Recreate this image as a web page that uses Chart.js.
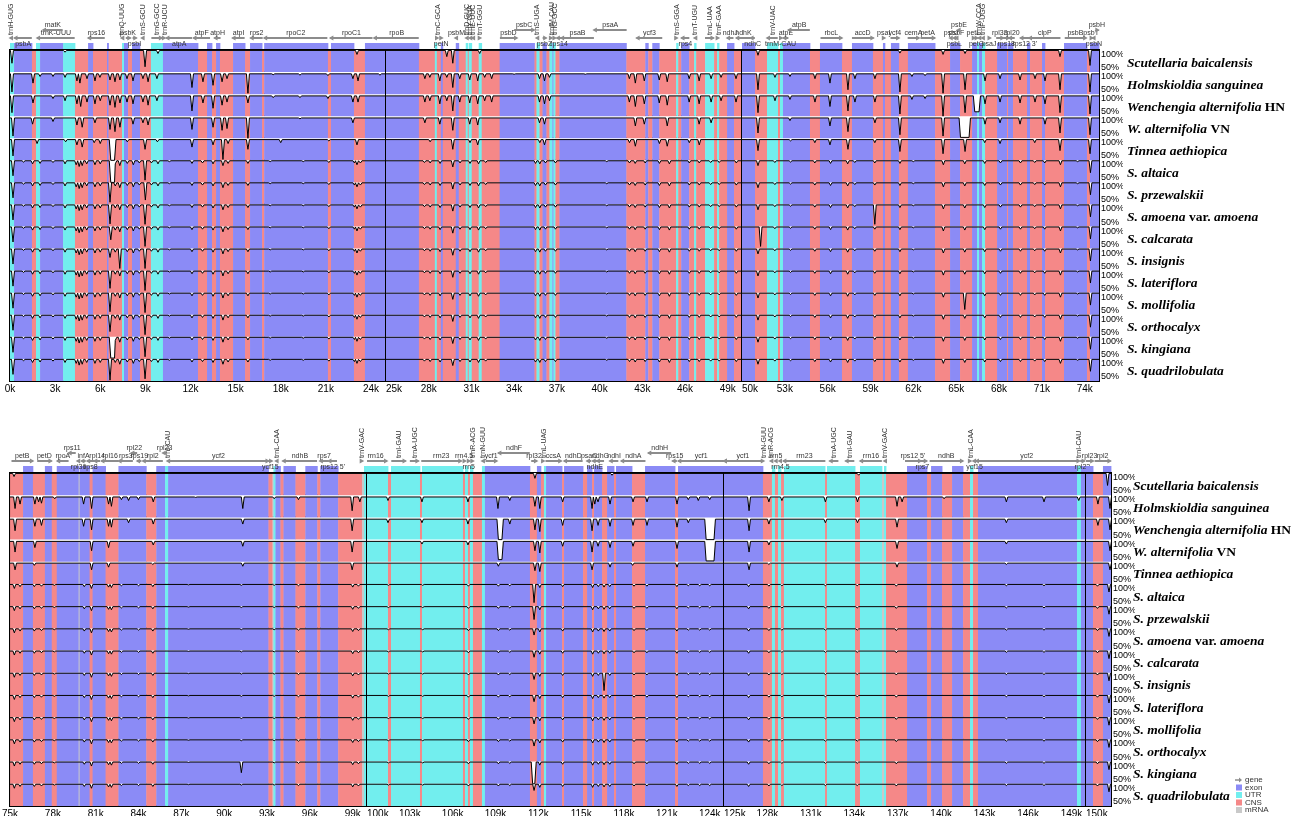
<!DOCTYPE html>
<html>
<head>
<meta charset="utf-8">
<script src="https://cdn.jsdelivr.net/npm/chart.js@4.4.1/dist/chart.umd.min.js"></script>
<style>
  html, body { margin: 0; padding: 0; background: #fff; width: 1294px; height: 816px; overflow: hidden; }
  #wrap { position: relative; width: 1294px; height: 816px; overflow: hidden; }
  #wrap canvas { position: absolute; }
</style>
</head>
<body>
<div id="wrap"></div>
<script>
// ---------- sequence ranges (kb) drawn as blocks ----------
const topSegments = [[0, 25], [25, 50], [50, 75]];
const bottomSegments = [[75, 100], [100, 125], [125, 150], [150, 151.74]];

// ---------- x tick labels (kb) per block ----------
const topTicks = [
  [0, 3, 6, 9, 12, 15, 18, 21, 24],
  [25, 28, 31, 34, 37, 40, 43, 46, 49],
  [50, 53, 56, 59, 62, 65, 68, 71, 74]
];
const bottomTicks = [
  [75, 78, 81, 84, 87, 90, 93, 96, 99],
  [100, 103, 106, 109, 112, 115, 118, 121, 124],
  [125, 128, 131, 134, 137, 140, 143, 146, 149],
  [150]
];

// ---------- annotation classes: [start kb, end kb, type] e=exon u=UTR c=CNS m=mRNA ----------
const topRegions = [
  [0,0.27,'u'],[0.27,1.46,'e'],[1.46,1.73,'c'],[1.73,2.0,'u'],[2.0,3.53,'e'],[3.53,4.32,'u'],[4.32,5.19,'c'],
  [5.19,5.52,'e'],[5.52,6.45,'c'],[6.45,6.55,'e'],[6.55,7.45,'c'],[7.45,7.58,'u'],[7.58,7.85,'e'],[7.85,8.11,'c'],
  [8.11,8.64,'e'],[8.64,9.37,'c'],[9.37,10.17,'u'],[10.17,12.5,'e'],[12.5,13.1,'c'],[13.1,13.43,'e'],[13.43,13.7,'c'],
  [13.7,13.96,'e'],[13.96,14.83,'c'],[14.83,15.63,'e'],[15.63,15.96,'c'],[15.96,16.76,'e'],[16.76,16.9,'c'],
  [16.9,21.14,'e'],[21.14,21.34,'c'],[21.34,22.87,'e'],[22.87,23.6,'c'],[23.6,27.31,'e'],[27.31,28.43,'c'],
  [28.43,28.57,'u'],[28.57,28.85,'c'],[28.85,28.99,'e'],[28.99,29.9,'c'],[29.9,30.11,'e'],[30.11,30.6,'c'],
  [30.6,30.74,'u'],[30.74,30.81,'c'],[30.81,31.02,'u'],[31.02,31.51,'c'],[31.51,31.72,'u'],[31.72,32.98,'c'],
  [32.98,35.43,'e'],[35.43,35.57,'c'],[35.57,35.78,'u'],[35.78,35.99,'c'],[35.99,36.27,'e'],[36.27,36.48,'c'],
  [36.48,36.69,'u'],[36.69,36.76,'e'],[36.76,36.9,'u'],[36.9,37.18,'c'],[37.18,41.88,'e'],[41.88,43.21,'c'],
  [43.21,43.42,'e'],[43.42,43.7,'c'],[43.7,44.19,'e'],[44.19,45.38,'c'],[45.38,45.52,'u'],[45.52,45.73,'c'],
  [45.73,46.29,'e'],[46.29,46.64,'c'],[46.64,46.78,'u'],[46.78,47.41,'c'],[47.41,48.04,'u'],[48.04,48.25,'c'],
  [48.25,48.39,'u'],[48.39,48.95,'c'],[48.95,49.44,'e'],[49.44,50,'c'],
  [50,50.91,'e'],[50.91,51.75,'c'],[51.75,52.52,'u'],[52.52,52.66,'c'],[52.66,52.87,'u'],[52.87,54.76,'e'],
  [54.76,55.46,'c'],[55.46,57.0,'e'],[57.0,57.7,'c'],[57.7,59.17,'e'],[59.17,59.87,'c'],[59.87,60.01,'e'],
  [60.01,60.43,'c'],[60.43,60.99,'e'],[60.99,61.62,'c'],[61.62,63.52,'e'],[63.52,64.57,'c'],[64.57,65.27,'e'],
  [65.27,66.11,'c'],[66.11,66.46,'e'],[66.46,66.6,'u'],[66.6,66.81,'e'],[66.81,67.02,'u'],[67.02,67.86,'c'],
  [67.86,68.56,'e'],[68.56,68.63,'c'],[68.63,68.98,'e'],[68.98,69.96,'c'],[69.96,70.17,'e'],[70.17,71.01,'c'],
  [71.01,71.22,'e'],[71.22,72.55,'c'],[72.55,74.16,'e'],[74.16,74.37,'c'],[74.37,75,'e']
];
const bottomRegions = [
  [75,75.91,'c'],[75.91,76.6,'e'],[76.6,77.44,'c'],[77.44,77.92,'e'],[77.92,78.27,'c'],[78.27,79.8,'e'],
  [79.8,79.87,'m'],[79.87,80.57,'e'],[80.57,80.78,'c'],[80.78,81.69,'e'],[81.69,82.59,'c'],[82.59,84.54,'e'],
  [84.54,85.24,'c'],[85.24,85.86,'e'],[85.86,86.07,'u'],[86.07,93.1,'e'],[93.1,93.38,'c'],[93.38,93.45,'m'],
  [93.45,93.59,'u'],[93.59,93.94,'e'],[93.94,94.15,'c'],[94.15,94.99,'e'],[94.99,95.68,'c'],[95.68,96.52,'e'],
  [96.52,96.73,'c'],[96.73,97.98,'e'],[97.98,99.65,'c'],[99.65,99.79,'m'],[99.79,101.47,'u'],[101.47,101.68,'c'],
  [101.68,103.71,'u'],[103.71,103.85,'c'],[103.85,106.72,'u'],[106.72,106.86,'c'],[106.86,107.07,'u'],
  [107.07,107.21,'c'],[107.21,107.42,'u'],[107.42,108.05,'c'],[108.05,108.26,'u'],[108.26,111.41,'e'],
  [111.41,111.9,'c'],[111.9,112.18,'e'],[112.18,112.39,'c'],[112.39,112.54,'u'],[112.54,113.66,'e'],
  [113.66,113.8,'c'],[113.8,115.13,'e'],[115.13,115.41,'c'],[115.41,115.76,'e'],[115.76,115.9,'c'],
  [115.9,116.46,'e'],[116.46,116.81,'c'],[116.81,117.3,'e'],[117.3,117.44,'c'],[117.44,118.56,'e'],
  [118.56,119.47,'c'],[119.47,121.57,'e'],[121.57,121.78,'c'],[121.78,127.69,'e'],[127.69,128.31,'c'],
  [128.31,128.52,'u'],[128.52,128.73,'c'],[128.73,128.94,'u'],[128.94,129.14,'c'],[129.14,131.98,'u'],
  [131.98,132.11,'c'],[132.11,134.05,'u'],[134.05,134.39,'c'],[134.39,135.91,'u'],[135.91,136.05,'m'],
  [136.05,136.19,'u'],[136.19,137.64,'c'],[137.64,139.02,'e'],[139.02,139.3,'c'],[139.3,140.06,'e'],
  [140.06,140.75,'c'],[140.75,141.51,'e'],[141.51,141.99,'c'],[141.99,142.2,'u'],[142.2,142.54,'c'],
  [142.54,149.38,'e'],[149.38,149.65,'u'],[149.65,150.49,'e'],[150.49,151.18,'c'],[151.18,151.74,'e']
];

// ---------- genes: [name, start kb, end kb, strand, track] track 0/1 above, -1 label below, 'v' upright tRNA label ----------
const topGenes = [
  ['trnH-GUG',0.0,0.1,-1,'v'],['psbA',0.3,1.45,-1,-1],['trnK-UUU',1.8,4.3,-1,0],['matK',2.2,3.5,-1,1],
  ['rps16',5.2,6.3,-1,0],['trnQ-UUG',7.4,7.5,-1,'v'],['psbK',7.7,8.0,1,0],['psbI',8.15,8.4,1,-1],
  ['trnS-GCU',8.75,8.85,-1,'v'],['trnG-GCC',9.4,10.1,1,'v'],['trnR-UCU',10.2,10.3,1,'v'],['atpA',10.4,12.1,-1,-1],
  ['atpF',12.2,13.3,-1,0],['atpH',13.6,14.0,-1,0],['atpI',14.8,15.6,-1,0],['rps2',16.0,16.8,-1,0],
  ['rpoC2',16.9,21.1,-1,0],['rpoC1',21.3,24.1,-1,0],['rpoB',24.2,27.3,-1,0],
  ['trnC-GCA',28.55,28.65,1,'v'],['petN',28.8,28.95,1,-1],['psbM',29.85,30.05,-1,0],['trnD-GUC',30.6,30.7,-1,'v'],
  ['trnY-GUA',30.85,30.95,-1,'v'],['trnE-UUC',31.05,31.15,-1,'v'],['trnT-GGU',31.55,31.65,1,'v'],
  ['psbD',33.0,34.2,1,0],['psbC',34.0,35.4,1,1],['trnS-UGA',35.55,35.65,-1,'v'],['psbZ',36.0,36.25,1,-1],
  ['trnfM-CAU',36.55,36.65,1,'v'],['trnG-GCC',36.8,36.9,1,'v'],['rps14',37.0,37.3,-1,-1],['psaB',37.3,39.6,-1,0],
  ['psaA',39.6,41.9,-1,1],['ycf3',42.6,44.4,-1,0],['trnS-GGA',45.35,45.45,1,'v'],['rps4',45.75,46.3,-1,-1],
  ['trnT-UGU',46.65,46.75,-1,'v'],['trnL-UAA',47.4,48.0,1,'v'],['trnF-GAA',48.28,48.36,1,'v'],
  ['ndhJ',48.95,49.4,-1,0],['ndhK',49.6,50.6,-1,0],['ndhC',50.6,50.9,-1,-1],
  ['trnV-UAC',51.75,52.5,-1,'v'],['trnM-CAU',52.6,52.8,1,-1],['atpE',52.9,53.25,-1,0],['atpB',53.25,54.75,-1,1],
  ['rbcL',55.5,57.0,1,0],['accD',57.7,59.2,1,0],['psaI',59.85,60.0,1,0],['ycf4',60.4,61.0,1,0],
  ['cemA',61.6,62.4,1,0],['petA',62.5,63.5,1,0],['psbJ',64.55,64.75,-1,0],['psbL',64.8,64.95,-1,-1],
  ['psbF',64.95,65.1,-1,0],['psbE',65.1,65.3,-1,1],['petL',66.1,66.3,1,0],['petG',66.35,66.5,1,-1],
  ['trnW-CCA',66.55,66.65,-1,'v'],['trnP-UGG',66.8,66.9,-1,'v'],['psaJ',67.2,67.4,1,-1],['rpl33',67.8,68.3,1,0],
  ['rps18',68.3,68.7,1,-1],['rpl20',68.7,69.1,-1,0],["rps12 3'",69.5,70.1,-1,-1],['clpP',70.1,72.3,-1,0],
  ['psbB',72.6,74.1,1,0],['psbT',74.35,74.55,1,0],['psbN',74.55,74.75,-1,-1],['psbH',74.75,74.95,1,1]
];
const bottomGenes = [
  ['petB',75.1,76.6,1,0],['petD',76.9,77.9,1,0],['rpoA',78.3,79.1,-1,0],['rps11',79.1,79.6,-1,1],
  ['rpl36',79.7,79.9,-1,-1],['infA',80.0,80.3,-1,0],['rps8',80.4,80.9,-1,-1],['rpl14',80.9,81.3,-1,0],
  ['rpl16',81.4,82.6,-1,0],['rps3',82.6,83.6,-1,0],['rpl22',83.5,83.9,-1,1],['rps19',83.9,84.2,-1,0],
  ['rpl2',84.3,85.7,-1,0],['rpl23',85.7,85.95,-1,1],['trnI-CAU',86.0,86.1,-1,'v'],['ycf2',86.1,93.1,1,0],
  ['ycf15',93.1,93.35,1,-1],['trnL-CAA',93.6,93.7,-1,'v'],['ndhB',94.1,96.5,-1,0],['rps7',96.7,97.3,-1,0],
  ["rps12 5'",97.3,97.9,-1,-1],['trnV-GAC',99.6,99.7,1,'v'],['rrn16',99.8,101.4,1,0],
  ['trnI-GAU',101.7,102.7,1,'v'],['trnA-UGC',103.0,103.6,1,'v'],['rrn23',103.8,106.6,1,0],
  ['rrn4.5',106.7,106.9,1,0],['rrn5',107.05,107.2,1,-1],['trnR-ACG',107.35,107.45,1,'v'],
  ['trnN-GUU',108.05,108.15,-1,'v'],['ycf1',108.3,109.1,1,0],['ndhF',109.2,111.4,-1,1],['rpl32',111.5,111.9,1,0],
  ['trnL-UAG',112.3,112.4,1,'v'],['ccsA',112.5,113.6,1,0],['ndhD',113.8,115.1,-1,0],['psaC',115.4,115.7,-1,0],
  ['ndhE',115.8,116.1,-1,-1],['ndhG',116.1,116.6,-1,0],['ndhI',117.0,117.6,-1,0],['ndhA',117.8,119.5,-1,0],
  ['ndhH',119.7,121.3,-1,1],['rps15',121.4,121.7,-1,0],['ycf1',121.8,125.0,-1,0],['ycf1',125.0,127.6,-1,0],
  ['trnN-GUU',127.65,127.75,1,'v'],['trnR-ACG',128.2,128.3,-1,'v'],['rrn5',128.5,128.7,-1,0],
  ['rrn4.5',128.8,129.0,-1,-1],['rrn23',129.1,132.0,-1,0],['trnA-UGC',132.3,132.9,-1,'v'],
  ['trnI-GAU',133.4,134.0,-1,'v'],['rrn16',134.4,135.9,-1,0],['trnV-GAC',136.05,136.15,-1,'v'],
  ["rps12 5'",137.5,138.6,1,0],['rps7',138.4,139.0,1,-1],['ndhB',139.2,141.5,1,0],['trnL-CAA',141.95,142.05,1,'v'],
  ['ycf15',142.2,142.4,-1,-1],['ycf2',142.4,149.4,-1,0],['trnI-CAU',149.45,149.55,1,'v'],['rpl23',149.6,149.9,1,-1],
  ['rpl23',150.0,150.5,1,0],['rpl2',150.6,151.7,1,0]
];

// ---------- identity dips per genome: [kb, % identity] or [from kb, %, to kb] for flat troughs ----------
const dipBaicalensis = [[0.13,70],[3.66,95],[8.98,62],[9.84,92],[23.07,90],[29.27,85],[29.69,70],[31.58,92],
  [51.12,88],[61.06,93],[64.08,90],[65.62,92],[72.27,85],[74.37,65],[75.28,92],[111.76,88],[117.16,95],[134.3,95],[151.5,72]];
const dipHolmskioldia = [[0.13,55],[1.53,75],[2.0,90],[2.86,90],[3.66,88],[4.45,80],[4.65,75],[5.12,85],[5.65,80],
  [5.98,88],[6.65,82],[6.98,78],[7.31,82],[7.78,85],[8.18,80],[8.84,85],[9.18,78],[9.77,85],[12.1,65],[12.83,78],
  [13.5,70],[14.1,78],[14.43,85],[15.82,52],[17.5,94],[19.28,93],[21.14,92],[22.8,85],[23.14,80],[24.6,93],
  [27.73,85],[28.08,88],[28.78,80],[29.27,88],[29.69,65],[30.18,85],[30.88,82],[31.44,80],[31.93,88],[32.42,85],
  [34.0,95],[35.78,85],[36.13,80],[36.48,88],[39.0,95],[42.09,85],[42.51,75],[43.14,80],[44.19,82],[44.75,78],
  [46.29,85],[46.99,80],[47.83,85],[48.53,88],[49.58,85],[51.12,60],[52.31,88],[53.36,90],[55.11,85],[56.16,75],
  [57.42,60],[57.91,85],[59.31,85],[61.06,55],[61.9,90],[62.82,92],[64.08,52],[65.62,60],[67.02,80],[68.07,85],
  [69.47,82],[70.52,85],[71.22,80],[72.27,60],[74.37,55],
  [75.35,70],[75.7,80],[76.74,80],[77.0,85],[77.2,82],[78.13,92],[80.15,80],[80.71,70],[81.9,80],[82.1,75],
  [82.8,90],[83.3,88],[83.99,90],[85.03,85],[88.0,95],[91.3,70],[93.5,92],[95.2,90],[98.96,65],[99.5,85],
  [101.47,88],[103.85,85],[107.07,85],[109.17,70],[110.0,88],[111.76,75],[112.1,70],[113.7,85],[115.76,70],
  [115.95,80],[116.18,85],[117.02,80],[118.63,85],[119.61,85],[121.71,80],[122.5,90],[123.2,88],[124.0,90],
  [126.73,65],[128.1,85],[129.0,88],[132.0,85],[134.22,85],[136.95,75],[137.3,85],[140.2,92],[144.5,85],
  [147.1,85],[149.5,88],[150.83,80],[151.67,70]];
const dipWenchengiaHN = [[0.13,58],[1.53,80],[2.86,90],[3.66,85],[4.45,78],[4.7,72],[5.12,82],[5.65,78],[6.0,85],
  [6.65,75],[6.98,70],[7.31,80],[7.78,82],[8.18,78],[8.84,82],[9.18,75],[9.77,85],[12.1,62],[12.83,80],[13.5,68],
  [14.1,75],[14.43,82],[15.82,80],[17.5,92],[19.28,92],[21.14,90],[22.8,82],[23.14,82],[27.73,82],[28.08,85],
  [28.78,78],[29.27,85],[29.69,62],[30.18,82],[30.88,80],[31.44,78],[31.93,85],[32.42,82],[35.78,82],[36.13,78],
  [36.48,85],[42.09,82],[42.51,72],[43.14,78],[44.19,80],[44.75,75],[46.29,82],[46.99,78],[47.83,82],[48.53,85],
  [49.58,82],[51.12,58],[52.31,85],[53.36,88],[55.11,82],[56.16,72],[57.42,62],[57.91,82],[59.31,82],[61.06,55],
  [61.9,88],[62.82,90],[64.08,50],[65.62,58],[66.3,60,66.6],[67.02,78],[68.07,82],[69.47,80],[70.52,82],
  [71.22,78],[72.27,58],[74.37,55],
  [75.35,70],[76.74,80],[77.2,82],[80.15,80],[80.71,72],[81.9,80],[82.1,78],[83.3,88],[85.03,85],[91.3,85],
  [98.96,70],[101.47,88],[103.85,88],[107.07,85],[109.2,50,109.45],[110.0,85],[111.76,72],[112.1,68],[113.7,82],
  [115.76,70],[116.18,82],[117.02,80],[118.63,82],[119.61,82],[121.71,78],[122.5,88],[123.75,50,124.3],
  [126.73,70],[128.1,85],[132.0,88],[134.22,88],[136.95,78],[144.5,88],[150.83,82],[151.67,72]];
const dipWenchengiaVN = [[0.2,55],[1.5,82],[2.86,88],[4.45,80],[4.8,75],[5.65,85],[6.65,70],[6.98,65],[7.31,75],
  [8.18,82],[8.84,85],[9.18,80],[12.1,70],[13.5,75],[14.1,68],[14.43,72],[15.82,50],[19.28,94],[22.8,85],
  [27.73,85],[28.78,82],[29.69,68],[30.88,82],[31.44,80],[35.78,85],[36.13,82],[42.51,78],[43.14,82],[44.75,78],
  [46.99,82],[47.83,85],[51.12,62],[53.36,90],[56.16,78],[57.42,65],[59.31,85],[61.06,58],[64.08,55],
  [65.3,52,65.9],[67.02,82],[68.07,85],[69.47,82],[71.22,82],[72.27,62],[74.37,58],
  [75.35,72],[76.74,82],[80.71,75],[81.9,82],[85.03,88],[91.3,85],[98.96,72],[103.85,90],[107.07,88],
  [109.2,55,109.45],[111.76,75],[112.1,70],[113.7,85],[115.76,72],[116.18,85],[117.02,82],[118.63,85],
  [121.71,80],[123.75,52,124.3],[126.73,72],[128.1,88],[136.95,80],[144.5,90],[151.67,75]];
const dipTinnea = [[0.2,60],[1.8,88],[3.7,92],[4.45,85],[4.8,80],[5.6,90],[6.0,88],[6.7,50,6.95],[7.8,92],[8.98,75],
  [9.8,92],[12.1,80],[13.5,85],[14.16,52],[14.5,88],[15.82,75],[18.0,90],[21.2,94],[23.07,85],[28.1,92],[29.69,75],
  [30.9,90],[31.44,85],[35.8,90],[36.13,85],[42.1,90],[42.51,82],[44.2,88],[44.75,82],[46.3,90],[47.0,85],
  [51.12,72],[53.4,94],[55.1,90],[56.16,85],[57.42,75],[59.3,90],[61.06,70],[64.08,65],[65.62,70],[67.0,90],
  [68.07,88],[70.5,90],[72.27,72],[74.37,65],
  [75.35,82],[76.7,92],[80.71,82],[81.9,88],[85.0,94],[91.3,90],[98.96,82],[109.2,90],[111.76,80],[112.1,78],
  [115.76,82],[117.02,88],[118.6,92],[121.71,88],[126.73,82],[128.1,94],[136.95,88],[144.5,94],[151.67,82]];
// dips shared by the Scutellaria genomes, then each genome's own departures
const scutSharedDips = [[0.2,65],[0.9,96],[1.5,92],[2.0,93],[2.86,95],[3.66,92],[4.4,90],[4.6,86],[4.8,88],[5.1,92],
  [5.65,90],[6.0,92],[6.65,58],[7.0,92],[7.3,88],[7.8,93],[8.2,90],[8.6,94],[8.98,55],[9.4,94],[9.84,92],[10.6,97],
  [12.1,93],[12.8,94],[13.5,92],[14.16,88],[14.5,93],[15.82,93],[17.3,97],[19.5,97],[21.2,95],[22.9,94],[23.07,90],
  [23.3,94],[27.7,95],[28.1,94],[28.8,93],[29.69,85],[30.2,94],[30.9,93],[31.5,92],[32.0,95],[35.5,93],[35.8,92],
  [36.2,94],[36.9,94],[40.5,97],[42.1,94],[42.5,93],[43.2,94],[44.2,93],[44.9,92],[46.3,94],[47.0,94],[47.8,95],
  [48.4,95],[49.6,94],[51.12,88],[52.3,95],[53.4,96],[55.1,94],[56.2,93],[57.4,92],[57.9,95],[59.3,94],[61.06,93],
  [62.0,97],[64.1,90],[65.6,92],[67.0,93],[68.1,94],[69.5,94],[70.5,95],[71.2,94],[72.3,90],[73.5,97],[74.4,72],
  [75.3,90],[75.7,94],[76.7,94],[77.2,95],[78.1,97],[80.2,94],[80.7,90],[81.9,93],[82.1,92],[82.8,96],[84.0,96],
  [85.0,94],[87.5,98],[91.2,97],[93.5,97],[95.2,96],[99.0,93],[99.4,95],[101.5,97],[103.9,97],[107.1,95],[109.2,95],
  [110.0,96],[111.7,85],[112.1,92],[113.7,94],[115.8,92],[116.2,94],[116.6,93],[117.0,94],[118.7,95],[119.6,95],
  [121.7,94],[122.5,96],[123.3,96],[124.0,96],[126.7,94],[128.1,95],[129.0,96],[132.0,96],[134.2,96],[136.9,95],
  [144.5,96],[147.1,96],[150.8,95],[151.6,82]];
const dipAltaica = [[6.7,50,6.95],[8.98,55],[111.7,58]];
const dipPrzewalskii = [[6.65,55],[9.0,60],[111.7,70]];
const dipAmoena = [[59.3,55],[6.65,56]];
const dipCalcarata = [[51.3,55],[6.7,70]];
const dipInsignis = [[7.3,55],[116.6,60],[6.65,80]];
const dipLateriflora = [[6.65,60]];
const dipMollifolia = [[65.6,62],[6.65,57]];
const dipOrthocalyx = [[6.65,62]];
const dipKingiana = [[6.7,52,6.95],[91.2,75],[111.6,50,111.75]];
const dipQuadrilobulata = [[6.65,52]];

// typical identity level between dips, per row
const rowBaseline = [99, 96, 96, 96, 97, 99, 99, 99, 99, 99, 99, 99, 99, 99, 99];

// row labels, split into [text, italic?] runs
const speciesLabels = [
  [['Scutellaria baicalensis', 1]],
  [['Holmskioldia sanguinea', 1]],
  [['Wenchengia alternifolia ', 1], ['HN', 0]],
  [['W. alternifolia ', 1], ['VN', 0]],
  [['Tinnea aethiopica', 1]],
  [['S. altaica', 1]],
  [['S. przewalskii', 1]],
  [['S. amoena ', 1], ['var. ', 0], ['amoena', 1]],
  [['S. calcarata', 1]],
  [['S. insignis', 1]],
  [['S. lateriflora', 1]],
  [['S. mollifolia', 1]],
  [['S. orthocalyx', 1]],
  [['S. kingiana', 1]],
  [['S. quadrilobulata', 1]]
];
const legendItems = [['gene', 'g'], ['exon', 'e'], ['UTR', 'u'], ['CNS', 'c'], ['mRNA', 'm']];

// ---------- styling ----------
const BAND = { e: '#8b8bf6', u: '#72eeee', c: '#f58888', m: '#c9c9c9' };
const ARROW = '#8c8c8c';
const SANS = '"Liberation Sans", Arial, sans-serif';
const SERIF = '"Liberation Serif", "Times New Roman", serif';
Chart.defaults.font.family = SANS;

// ---------- page layout of the two panels ----------
const TOP_PANEL = { canvasTop: 0, canvasH: 400, areaTop: 50, areaBottom: 381, edges: [10, 386, 742, 1099], labelGap: 28 };
const BOTTOM_PANEL = { canvasTop: 400, canvasH: 430, areaTop: 473, areaBottom: 806, edges: [8, 367, 724, 1086, 1111], labelGap: 22 };
const ROW_COUNT = speciesLabels.length;
const rowEdges = Array.from({ length: ROW_COUNT + 1 }, (_, i) => i);

function mergeDips(shared, own) {
  const kept = shared.filter(d => !own.some(o => Math.abs(o[0] - d[0]) < 0.2));
  return kept.concat(own);
}
const rowDips = [
  dipBaicalensis, dipHolmskioldia, dipWenchengiaHN, dipWenchengiaVN, dipTinnea,
  mergeDips(scutSharedDips, dipAltaica), mergeDips(scutSharedDips, dipPrzewalskii),
  mergeDips(scutSharedDips, dipAmoena), mergeDips(scutSharedDips, dipCalcarata),
  mergeDips(scutSharedDips, dipInsignis), mergeDips(scutSharedDips, dipLateriflora),
  mergeDips(scutSharedDips, dipMollifolia), mergeDips(scutSharedDips, dipOrthocalyx),
  mergeDips(scutSharedDips, dipKingiana), mergeDips(scutSharedDips, dipQuadrilobulata)
];

// Turn a dip list into line vertices: each dip is a narrow notch down from the row's baseline.
function buildCurve(dips, base, lo, hi) {
  const w = 0.1;
  const list = dips.filter(d => (d.length > 2 ? d[2] : d[0]) > lo - 0.3 && d[0] < hi + 0.3)
                   .slice().sort((a, b) => a[0] - b[0]);
  const pts = [{ x: lo - 0.5, y: base }];
  let lastX = lo - 0.5;
  list.forEach((d, i) => {
    const x1 = d[0], x2 = d.length > 2 ? d[2] : d[0];
    if (x1 - w > lastX) pts.push({ x: x1 - w, y: base });
    pts.push({ x: x1, y: d[1] });
    if (x2 > x1) pts.push({ x: x2, y: d[1] });
    lastX = x2;
    const nx = list[i + 1] ? list[i + 1][0] - w : Infinity;
    if (x2 + w < nx) { pts.push({ x: x2 + w, y: base }); lastX = x2 + w; }
  });
  pts.push({ x: Math.max(hi + 0.5, lastX + 0.01), y: base });
  return pts;
}
// identity (50-100 %) into row units of the stacked y scale (row i spans i..i+1, 100% at top)
function toRowY(row, v) {
  const c = Math.max(50, Math.min(100, v));
  return row + (100 - c) / 50;
}

const wrap = document.getElementById('wrap');

function segmentChart(panel, idx, range, tickVals, regions, genes) {
  const last = idx === panel.edges.length - 2;
  const eL = panel.edges[idx], eR = panel.edges[idx + 1];
  const padL = idx === 0 ? eL : 40;
  const left = eL - padL;
  const right = last ? 1294 : eR + 40;
  const W = right - left, H = panel.canvasH;
  const pctW = last ? 24 : 0;
  const canvas = document.createElement('canvas');
  canvas.width = W; canvas.height = H;
  canvas.style.left = left + 'px'; canvas.style.top = panel.canvasTop + 'px';
  canvas.style.width = W + 'px'; canvas.style.height = H + 'px';
  wrap.appendChild(canvas);

  const [lo, hi] = range;
  const startTick = idx > 0 ? [tickVals[0]] : [];
  const innerTicks = idx > 0 ? tickVals.slice(1) : tickVals;

  const datasets = rowDips.map((dips, r) => ({
    data: buildCurve(dips, rowBaseline[r], lo, hi).map(p => ({ x: p.x, y: toRowY(r, p.y) })),
    borderColor: '#000', borderWidth: 1, backgroundColor: '#fff',
    fill: { value: r }, pointRadius: 0, tension: 0, xAxisID: 'x', yAxisID: 'y'
  }));

  const bandsPlugin = {
    id: 'bands' + idx,
    beforeDatasetsDraw(chart) {
      const { ctx, chartArea: ca, scales: { x } } = chart;
      ctx.save();
      ctx.beginPath(); ctx.rect(ca.left, ca.top, ca.width, ca.height); ctx.clip();
      for (const [a, b, t] of regions) {
        if (b <= lo || a >= hi) continue;
        const x1 = x.getPixelForValue(Math.max(a, lo)), x2 = x.getPixelForValue(Math.min(b, hi));
        ctx.fillStyle = BAND[t];
        ctx.fillRect(x1, ca.top, x2 - x1 + 0.4, ca.height);
      }
      ctx.restore();
    }
  };

  const geneTrack = {
    id: 'genes' + idx,
    afterDraw(chart) {
      const { ctx, chartArea: ca, scales: { x } } = chart;
      const T = ca.top;
      ctx.save();
      // exon / UTR strip just above the plot
      for (const [a, b, t] of regions) {
        if ((t !== 'e' && t !== 'u') || b <= lo || a >= hi) continue;
        const x1 = x.getPixelForValue(Math.max(a, lo)), x2 = x.getPixelForValue(Math.min(b, hi));
        ctx.fillStyle = BAND[t];
        ctx.fillRect(x1, T - 7, x2 - x1 + 0.4, 6);
      }
      ctx.font = '7px ' + SANS;
      for (const [name, a, b, dir, lvl] of genes) {
        if (b < lo || a > hi) continue;
        const xa = x.getPixelForValue(a), xb = x.getPixelForValue(b);
        const y = T + (lvl === 1 ? -20 : -12);
        ctx.strokeStyle = ARROW; ctx.fillStyle = ARROW; ctx.lineWidth = 2;
        const cl = Math.max(xa, ca.left), cr = Math.min(xb, ca.right);
        if (cr - cl > 3) {
          ctx.beginPath(); ctx.moveTo(cl, y); ctx.lineTo(cr, y); ctx.stroke();
        }
        const tip = dir > 0 ? xb : xa;
        if (tip >= ca.left - 1 && tip <= ca.right + 1) {
          ctx.beginPath();
          ctx.moveTo(tip + dir * 1.5, y);
          ctx.lineTo(tip - dir * 3, y - 2.5);
          ctx.lineTo(tip - dir * 3, y + 2.5);
          ctx.closePath(); ctx.fill();
        }
        const mid = (a + b) / 2;
        if (mid >= lo && mid < hi) {
          const mx = x.getPixelForValue(mid);
          ctx.fillStyle = '#333';
          if (lvl === 'v') {
            ctx.save(); ctx.translate(mx + 0.5, T - 15); ctx.rotate(-Math.PI / 2);
            ctx.textAlign = 'left'; ctx.textBaseline = 'middle'; ctx.fillText(name, 0, 0); ctx.restore();
          } else if (lvl === -1) {
            ctx.textAlign = 'center'; ctx.textBaseline = 'middle'; ctx.fillText(name, mx, T - 6);
          } else {
            ctx.textAlign = 'center'; ctx.textBaseline = 'alphabetic'; ctx.fillText(name, mx, y - 3);
          }
        }
      }
      ctx.restore();
    }
  };

  const rowNames = {
    id: 'names' + idx,
    afterDraw(chart) {
      if (!last) return;
      const { ctx, chartArea: ca, scales: { y } } = chart;
      ctx.save();
      ctx.fillStyle = '#000'; ctx.textBaseline = 'middle'; ctx.textAlign = 'left';
      speciesLabels.forEach((parts, i) => {
        let xx = ca.right + panel.labelGap;
        const yy = y.getPixelForValue(i + 0.5) + 2;
        parts.forEach(([txt, ital]) => {
          ctx.font = (ital ? 'italic ' : '') + 'bold 13.5px ' + SERIF;
          ctx.fillText(txt, xx, yy);
          xx += ctx.measureText(txt).width;
        });
      });
      if (panel === BOTTOM_PANEL) {
        // key for the annotation colours
        const lx = 1236 - left, ly0 = 780 - panel.canvasTop;
        ctx.font = '8px ' + SANS; ctx.textBaseline = 'middle';
        legendItems.forEach(([txt, t], i) => {
          const yy = ly0 + i * 7.5;
          if (t === 'g') {
            ctx.strokeStyle = ARROW; ctx.fillStyle = ARROW; ctx.lineWidth = 1.5;
            ctx.beginPath(); ctx.moveTo(lx - 1, yy); ctx.lineTo(lx + 4, yy); ctx.stroke();
            ctx.beginPath(); ctx.moveTo(lx + 6, yy); ctx.lineTo(lx + 3, yy - 2.5); ctx.lineTo(lx + 3, yy + 2.5); ctx.closePath(); ctx.fill();
          } else {
            ctx.fillStyle = BAND[t];
            ctx.fillRect(lx, yy - 3, 6, 6);
          }
          ctx.fillStyle = '#333';
          ctx.fillText(txt, lx + 9, yy);
        });
      }
      ctx.restore();
    }
  };

  const tickFont = { size: 10, family: SANS };
  return new Chart(canvas, {
    type: 'line',
    data: { datasets },
    plugins: [bandsPlugin, geneTrack, rowNames],
    options: {
      responsive: false, animation: false, devicePixelRatio: 1, events: [],
      layout: {
        autoPadding: false,
        padding: {
          left: padL, right: right - eR - pctW,
          top: panel.areaTop - panel.canvasTop,
          bottom: H - (panel.areaBottom - panel.canvasTop) - 16
        }
      },
      plugins: { legend: { display: false }, tooltip: { enabled: false } },
      scales: {
        x: {
          type: 'linear', min: lo, max: hi, position: 'bottom',
          grid: { display: false, drawTicks: false }, border: { display: false },
          afterBuildTicks: s => { s.ticks = innerTicks.map(v => ({ value: v })); },
          afterFit: s => { s.height = 16; },
          ticks: { autoSkip: false, maxRotation: 0, minRotation: 0, padding: 2, color: '#000', font: tickFont,
                   callback: v => v + 'k' }
        },
        x2: {
          type: 'linear', min: lo, max: hi, position: { y: ROW_COUNT }, display: startTick.length > 0,
          grid: { display: false, drawTicks: false }, border: { display: false },
          afterBuildTicks: s => { s.ticks = startTick.map(v => ({ value: v })); },
          ticks: { autoSkip: false, maxRotation: 0, minRotation: 0, padding: 2, align: 'start', color: '#000',
                   font: tickFont, callback: v => v + 'k' }
        },
        y: {
          type: 'linear', min: 0, max: ROW_COUNT, reverse: true, position: 'left', z: 1,
          afterBuildTicks: s => { s.ticks = rowEdges.map(v => ({ value: v })); },
          afterFit: s => { s.width = 0; },
          ticks: { display: false },
          grid: { color: '#000', lineWidth: 2, drawTicks: false },
          border: { display: true, color: '#000', width: 2 }
        },
        y2: {
          type: 'linear', min: 0, max: ROW_COUNT, reverse: true, position: 'right', display: last, z: 1,
          afterBuildTicks: s => { s.ticks = rowEdges.map(v => ({ value: v })); },
          afterFit: s => { s.width = pctW; },
          grid: { display: false, drawTicks: false },
          border: { display: true, color: '#000', width: 2 },
          ticks: { autoSkip: false, padding: 2, color: '#000', font: { size: 9, family: SANS, lineHeight: 1 },
                   callback: v => { const k = Math.round(v); return k === 0 ? ['', '100%'] : k === ROW_COUNT ? ['50%', ''] : ['50%', '100%']; } }
        }
      }
    }
  });
}

topSegments.forEach((seg, i) => segmentChart(TOP_PANEL, i, seg, topTicks[i], topRegions, topGenes));
bottomSegments.forEach((seg, i) => segmentChart(BOTTOM_PANEL, i, seg, bottomTicks[i], bottomRegions, bottomGenes));
</script>
</body>
</html>
